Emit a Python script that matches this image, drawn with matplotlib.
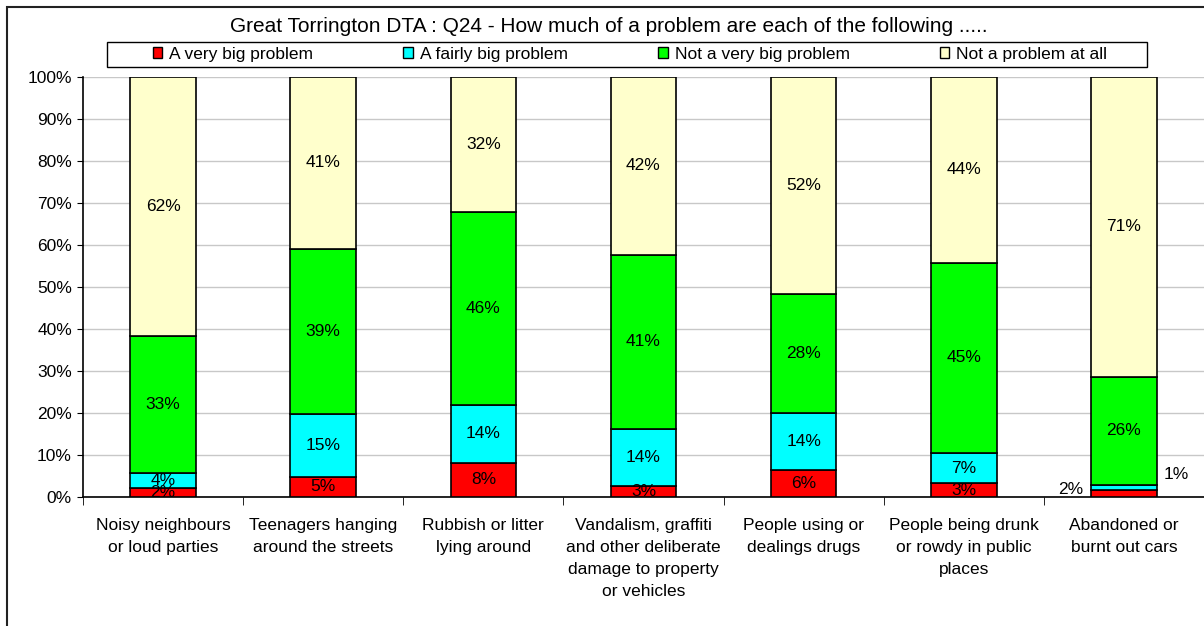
import matplotlib
matplotlib.use("Agg")
import matplotlib.pyplot as plt
from matplotlib.patches import Patch, Rectangle
import numpy as np

plt.rcParams['font.family'] = ['Liberation Sans', 'DejaVu Sans']

# Survey data (percent of respondents)
categories = ["Noisy neighbours\nor loud parties",
              "Teenagers hanging\naround the streets",
              "Rubbish or litter\nlying around",
              "Vandalism, graffiti\nand other deliberate\ndamage to property\nor vehicles",
              "People using or\ndealings drugs",
              "People being drunk\nor rowdy in public\nplaces",
              "Abandoned or\nburnt out cars"]
series_names = ["A very big problem", "A fairly big problem",
                "Not a very big problem", "Not a problem at all"]
very_big = [2.2, 4.8, 8.2, 2.7, 6.4, 3.3, 1.7]
fairly_big = [3.6, 14.9, 13.7, 13.6, 13.6, 7.2, 1.2]
not_very_big = [32.6, 39.4, 46.0, 41.4, 28.3, 45.3, 25.7]
not_at_all = [61.6, 40.9, 32.1, 42.3, 51.7, 44.2, 71.4]
colors = ['#ff0000', '#00ffff', '#00ff00', '#ffffcc']

title = "Great Torrington DTA : Q24 - How much of a problem are each of the following ....."

fig = plt.figure(figsize=(12.04, 6.26), dpi=100)

# outer chart border (only left and top visible in the reference)
fig.add_artist(Rectangle((7 / 1204, -0.1), 1.2, 0.1 + 1 - 7 / 626,
                         transform=fig.transFigure, fill=False,
                         edgecolor='#222222', linewidth=1.5))

ax = fig.add_axes([83 / 1204, 1 - 497 / 626, 1121 / 1204, 420 / 626])

x = np.arange(len(categories))
width = 0.41
series = [very_big, fairly_big, not_very_big, not_at_all]
bottom = np.zeros(len(categories))
for vals, col in zip(series, colors):
    vals = np.array(vals)
    ax.bar(x, vals, width, bottom=bottom, color=col, edgecolor='black',
           linewidth=1.2, zorder=3)
    for i, v in enumerate(vals):
        if i == 6 and v < 2.5:
            continue
        ax.text(x[i], bottom[i] + v / 2, "%d%%" % round(v), ha='center',
                va='center', fontsize=12.5, zorder=4)
    bottom += vals

# small segments of the last bar labelled outside
ax.text(x[6] - width / 2 - 0.05, very_big[6], "%d%%" % round(very_big[6]),
        ha='right', va='center', fontsize=12.5)
ax.text(x[6] + width / 2 + 0.04, very_big[6] + fairly_big[6] + 2.4,
        "%d%%" % round(fairly_big[6]), ha='left', va='center', fontsize=12.5)

ax.set_xlim(-0.5, len(categories) - 0.5)
ax.set_ylim(0, 100)
ax.set_yticks(np.arange(0, 101, 10))
ax.set_yticklabels(["%d%%" % t for t in range(0, 101, 10)], fontsize=12.5)
ax.set_xticks(x)
ax.set_xticklabels(categories, fontsize=12.5, linespacing=1.6, va='top')
ax.set_xticks(np.arange(-0.5, len(categories)), minor=True)
ax.tick_params(axis='x', which='major', length=0, pad=15)
ax.tick_params(axis='x', which='minor', length=6, direction='out')
ax.tick_params(axis='y', length=4, direction='out', pad=4)
ax.yaxis.grid(True, color='#c8c8c8', linewidth=1, zorder=0)
ax.set_axisbelow(True)
for s in ['top', 'right']:
    ax.spines[s].set_visible(False)
ax.spines['left'].set_linewidth(1.2)
ax.spines['bottom'].set_linewidth(1.2)

fig.text(609 / 1204, 1 - 27 / 626, title, ha='center', va='center', fontsize=15)

# legend box
fig.add_artist(Rectangle((107 / 1204, 1 - 67 / 626), 1040 / 1204, 25 / 626,
                         transform=fig.transFigure, fill=False,
                         edgecolor='black', linewidth=1))
handles = [Patch(facecolor=c, edgecolor='black', linewidth=1) for c in colors]
fig.legend(handles, series_names, loc='center', ncol=4,
           bbox_to_anchor=(630 / 1204, 1 - 54 / 626), frameon=False,
           fontsize=12.5, handlelength=0.55, handleheight=0.55,
           handletextpad=0.4, columnspacing=5.2)

fig.savefig("out.png", dpi=100)
